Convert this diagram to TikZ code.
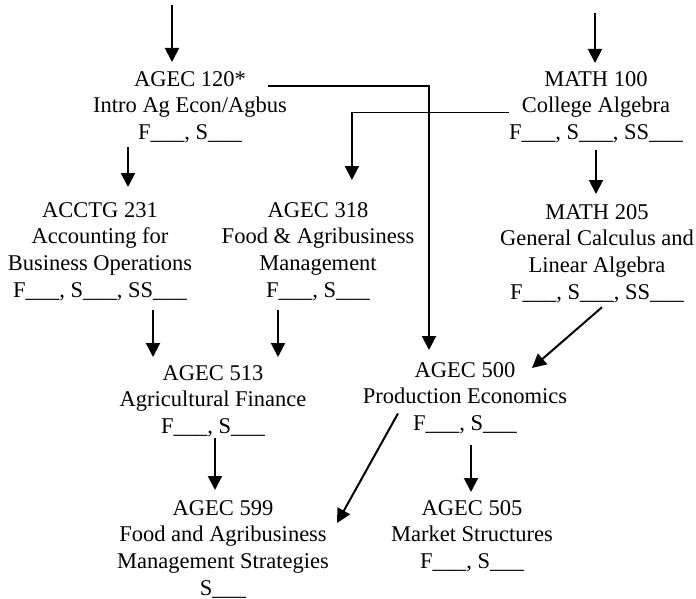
\documentclass[tikz,border=0pt]{standalone}
\usepackage{fontspec}
\setmainfont{Liberation Serif}
\usepackage{tikz}
\usetikzlibrary{arrows.meta, positioning, calc}

\tikzset{
    course/.style={align=center, inner sep=0pt, anchor=north, font=\fontsize{22.5}{26.8}\selectfont},
    prereq/.style={-{Triangle[length=14pt, width=14pt]}, line width=2pt},
    rule/.style={line width=1.2pt}
}

\begin{document}
\begin{tikzpicture}[x=1pt, y=-1pt]
    \useasboundingbox (0,0) rectangle (696,599);

    % Courses
    \node[course] (a120) at (190,71) {AGEC 120*\\Intro Ag Econ/Agbus\\F\_\_\_, S\_\_\_};
    \node[course] (m100) at (596,71) {MATH 100\\College Algebra\\F\_\_\_, S\_\_\_, SS\_\_\_};

    \node[course] (c231) at (100,202) {ACCTG 231\\Accounting for\\Business Operations\\F\_\_\_, S\_\_\_, SS\_\_\_};
    \node[course] (a318) at (318,202) {AGEC 318\\Food \& Agribusiness\\Management\\F\_\_\_, S\_\_\_};
    \node[course] (m205) at (597,204) {MATH 205\\General Calculus and\\Linear Algebra\\F\_\_\_, S\_\_\_, SS\_\_\_};

    \node[course] (a513) at (213,365) {AGEC 513\\Agricultural Finance\\F\_\_\_, S\_\_\_};
    \node[course] (a500) at (465,362) {AGEC 500\\Production Economics\\F\_\_\_, S\_\_\_};

    \node[course] (a599) at (223,500) {AGEC 599\\Food and Agribusiness\\Management Strategies\\S\_\_\_};
    \node[course] (a505) at (472,500) {AGEC 505\\Market Structures\\F\_\_\_, S\_\_\_};

    % Entry arrows
    \coordinate (in120) at (172,5);
    \coordinate (in100) at (595,13);
    \draw[prereq, shorten >=9pt] (in120) -- (in120 |- a120.north);
    \draw[prereq, shorten >=8pt] (in100) -- (in100 |- m100.north);

    % Elbow connectors
    \draw[rule] ([xshift=78pt, yshift=-15pt]a120.north) -- ++(161,0) coordinate (k500);
    \draw[prereq, shorten >=12pt] ([yshift=1pt]k500) -- (k500 |- a500.north);
    \draw[rule] ([yshift=-5.5pt]m100.west) -- ++(-157,0) coordinate (k318);
    \draw[prereq, shorten >=22pt] ([yshift=1pt]k318) -- (k318 |- a318.north);

    % Straight connectors
    \draw[prereq, shorten <=4pt, shorten >=15pt] ([xshift=-62pt]a120.south) -- ([xshift=28pt]c231.north);
    \draw[prereq, shorten <=7pt, shorten >=10pt] (m100.south) -- (m100.south |- m205.north);
    \draw[prereq, shorten <=9pt, shorten >=8pt] ([xshift=53pt]c231.south) -- ([xshift=-60pt]a513.north);
    \draw[prereq, shorten <=9pt, shorten >=8pt] ([xshift=-40pt]a318.south) -- ([xshift=65pt]a513.north);
    \draw[prereq] ([xshift=5pt, yshift=-4pt]m205.south) -- ([xshift=67pt, yshift=-6pt]a500.north);
    \draw[prereq] ([xshift=-67pt, yshift=21pt]a500.south) -- ([xshift=114pt, yshift=-23pt]a599.north);
    \draw[prereq, shorten <=1pt, shorten >=10pt] ([xshift=2pt]a513.south) -- ([xshift=-8pt]a599.north);
    \draw[prereq, shorten <=11pt, shorten >=8pt] ([xshift=6pt]a500.south) -- ([xshift=-1pt]a505.north);
\end{tikzpicture}
\end{document}
